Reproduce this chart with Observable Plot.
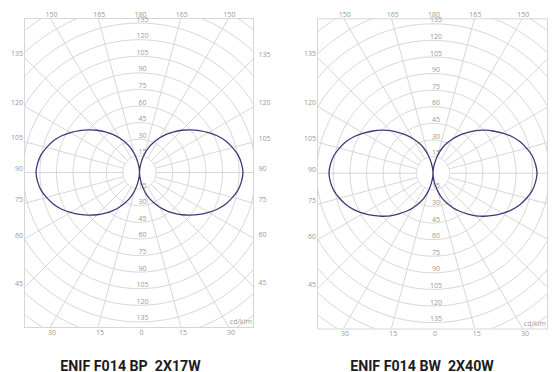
<!DOCTYPE html>
<html><head><meta charset="utf-8">
<script src="https://cdn.jsdelivr.net/npm/d3@7"></script>
<script src="https://cdn.jsdelivr.net/npm/@observablehq/plot@0.6"></script>
<style>
html,body{margin:0;padding:0;background:#fff;overflow:hidden;width:552px;height:372px;}
.panel{position:absolute;top:0;width:276px;height:345px;}
.panel svg{position:absolute;left:0;top:0;overflow:visible;}
.title{position:absolute;top:359px;font-family:Roboto,sans-serif;font-weight:700;font-size:14.2px;line-height:14.2px;color:#1c1c1c;white-space:pre;transform:translateX(-50%);}
</style></head><body>
<div id="p0" class="panel" style="left:0"></div>
<div id="p1" class="panel" style="left:276px"></div>
<div class="title" id="t0" style="left:130.5px"></div>
<div class="title" id="t1" style="left:422px"></div>
<script>
// ---- data ----
const titles = ["ENIF F014 BP  2X17W", "ENIF F014 BW  2X40W"];
const unitLabel = "cd/klm";
// gamma angle (degrees from nadir)
const gammaAngles = [0,5,10,15,20,25,30,35,40,45,50,55,60,65,70,75,80,85,90,
  95,100,105,110,115,120,125,130,135,140,145,150,155,160,165,170,175,180];
// luminous intensity, cd/klm
const intensityBP = [0,4,10,17,24,30,36,42,48,54,60,66,72,78,83,87,90.5,92.5,93.5,
  92.5,90.5,87,83,78,72,66,60,54,48,42,36,30,24,17,10,4,0];
const intensityBW = [0,4,10,17,24,30,36,42,48,54.5,60.5,66.5,72.5,78.5,83.5,87.5,91,93,94,
  93,91,87.5,83.5,78.5,72.5,66.5,60.5,54.5,48,42,36,30,24,17,10,4,0];
const ringValues = [15,30,45,60,75,90,105,120,135,150,165,180];
const ringLabels = [15,30,45,60,75,90,105,120,135];
const spokeAngles = [15,30,45,60,75,90,105,120,135,150,165];
const angleLabels = [0,15,30,45,60,75,90,105,120,135,150,165,180];

const k = 16.6 / 15; // px per cd/klm
const rad = Math.PI / 180;
const gridColor = "#d2d2d2";
const labelColor = "#9a9a9a";

function panel(cfg) {
  const {cx, cy, left, right, top, bottom, intensity} = cfg;
  const W = 276, H = 345;
  const Lu = (cx - left) / k, Ru = (right - cx) / k, Tu = (cy - top) / k, Bu = (bottom - cy) / k;

  const ringPts = ringValues.flatMap(r => d3.range(0, 361, 2).map(a => ({r, x: r * Math.sin(a * rad), y: r * Math.cos(a * rad)})));
  const spokes = [];
  for (const t of spokeAngles) for (const s of [-1, 1]) {
    spokes.push({x1: s * 15 * Math.sin(t * rad), y1: -15 * Math.cos(t * rad), x2: s * 300 * Math.sin(t * rad), y2: -300 * Math.cos(t * rad)});
  }
  const edgeLabels = {top: [], bottom: [], left: [], right: []};
  for (const t of angleLabels) for (const s of (t === 0 || t === 180 ? [1] : [-1, 1])) {
    const ux = s * Math.sin(t * rad), uy = -Math.cos(t * rad);
    const cands = [];
    if (ux < -1e-9) cands.push([Lu / -ux, "left"]);
    if (ux > 1e-9) cands.push([Ru / ux, "right"]);
    if (uy > 1e-9) cands.push([Tu / uy, "top"]);
    if (uy < -1e-9) cands.push([Bu / -uy, "bottom"]);
    cands.sort((a, b) => a[0] - b[0]);
    const [tt, edge] = cands[0];
    edgeLabels[edge].push({x: ux * tt, y: uy * tt, text: String(t)});
  }
  const ringLab = ringLabels.flatMap(r => [{y: r, text: String(r)}, {y: -r, text: String(r)}]);

  const curve = [];
  gammaAngles.forEach((g, i) => curve.push({x: -intensity[i] * Math.sin(g * rad), y: -intensity[i] * Math.cos(g * rad)}));
  for (let i = gammaAngles.length - 1; i >= 0; i--) {
    const g = gammaAngles[i];
    curve.push({x: intensity[i] * Math.sin(g * rad), y: -intensity[i] * Math.cos(g * rad)});
  }

  const txt = {fontSize: 7, fill: labelColor};
  return Plot.plot({
    width: W, height: H,
    marginLeft: left, marginRight: W - right, marginTop: top, marginBottom: H - bottom,
    style: {fontFamily: "'Open Sans', sans-serif", background: "transparent", overflow: "visible"},
    x: {domain: [-Lu, Ru], range: [left, right], axis: null},
    y: {domain: [Tu, -Bu], range: [top, bottom], axis: null},
    marks: [
      Plot.line(ringPts, {x: "x", y: "y", z: "r", stroke: gridColor, strokeWidth: 0.9, clip: true}),
      Plot.link(spokes, {x1: "x1", y1: "y1", x2: "x2", y2: "y2", stroke: gridColor, strokeWidth: 0.9, clip: true}),
      Plot.frame({stroke: "#d6d6d6", strokeWidth: 1}),
      Plot.text(ringLab, {x: 0, y: "y", text: "text", dx: 3, dy: -3.7, ...txt}),
      Plot.text(edgeLabels.top, {x: "x", y: "y", text: "text", dx: 1, dy: -4, ...txt}),
      Plot.text(edgeLabels.bottom, {x: "x", y: "y", text: "text", dx: 2, dy: 5, ...txt}),
      Plot.text(edgeLabels.left, {x: "x", y: "y", text: "text", dx: -1.5, dy: -3.5, textAnchor: "end", ...txt}),
      Plot.text(edgeLabels.right, {x: "x", y: "y", text: "text", dx: 5, dy: -3.5, textAnchor: "start", ...txt}),
      Plot.text([unitLabel], {frameAnchor: "bottom-right", text: d => d, dx: -1.5, dy: -3.5, textAnchor: "end", ...txt}),
      Plot.line(curve, {x: "x", y: "y", curve: "catmull-rom", stroke: "#463578", strokeWidth: 1.3})
    ]
  });
}

document.getElementById("p0").append(panel({cx: 139, cy: 172, left: 24, right: 253, top: 18, bottom: 327, intensity: intensityBP}));
document.getElementById("p1").append(panel({cx: 156.5, cy: 172.7, left: 41, right: 271, top: 18.3, bottom: 328.5, intensity: intensityBW}));
document.getElementById("t0").textContent = titles[0];
document.getElementById("t1").textContent = titles[1];
</script>
</body></html>
